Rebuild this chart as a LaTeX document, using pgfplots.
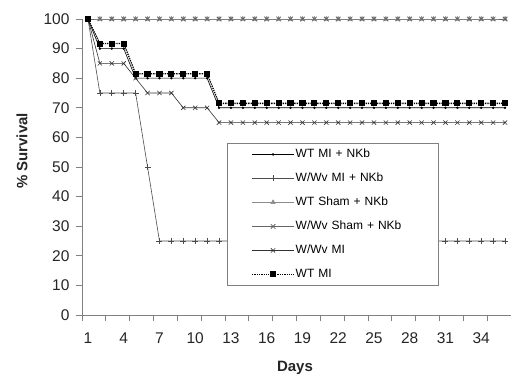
\documentclass[border=0pt]{standalone}
\usepackage{fontspec}
\setmainfont{Liberation Sans}
\usepackage{pgfplots}
\usepackage{pgfplotstable}
\pgfplotsset{compat=1.18}

\pgfplotstableread{
day wtminkb wwvminkb wtsham wwvsham wwvmi wtmi
1   100  100  100  100  100  100
2   90   75   100  100  85   91.7
3   90   75   100  100  85   91.7
4   90   75   100  100  85   91.7
5   80   75   100  100  80   81.5
6   80   50   100  100  75   81.5
7   80   25   100  100  75   81.5
8   80   25   100  100  75   81.5
9   80   25   100  100  70   81.5
10  80   25   100  100  70   81.5
11  80   25   100  100  70   81.5
12  70   25   100  100  65   71.5
13  70   25   100  100  65   71.5
14  70   25   100  100  65   71.5
15  70   25   100  100  65   71.5
16  70   25   100  100  65   71.5
17  70   25   100  100  65   71.5
18  70   25   100  100  65   71.5
19  70   25   100  100  65   71.5
20  70   25   100  100  65   71.5
21  70   25   100  100  65   71.5
22  70   25   100  100  65   71.5
23  70   25   100  100  65   71.5
24  70   25   100  100  65   71.5
25  70   25   100  100  65   71.5
26  70   25   100  100  65   71.5
27  70   25   100  100  65   71.5
28  70   25   100  100  65   71.5
29  70   25   100  100  65   71.5
30  70   25   100  100  65   71.5
31  70   25   100  100  65   71.5
32  70   25   100  100  65   71.5
33  70   25   100  100  65   71.5
34  70   25   100  100  65   71.5
35  70   25   100  100  65   71.5
36  70   25   100  100  65   71.5
}\survival

\begin{document}
\begin{tikzpicture}[x=1pt,y=1pt]
\path[use as bounding box] (0,0) rectangle (511,375);
\begin{axis}[
  at={(82pt,60pt)}, anchor=south west,
  scale only axis, width=429pt, height=296pt,
  xmin=0.5, xmax=36.5, ymin=0, ymax=100,
  axis x line*=bottom, axis y line*=left,
  axis line style={black!50, line width=0.8pt, -},
  xtick={1,4,...,34},
  major x tick style={draw=none},
  minor xtick={0.5,2.5,...,36.5},
  ytick={0,10,...,100},
  tick style={black!50, line width=0.8pt},
  tick align=outside,
  major tick length=6pt, minor tick length=6pt,
  ticklabel style={font=\fontsize{15.5}{15.5}\selectfont, text=black!85},
  xticklabel style={yshift=-8pt},
  yticklabel style={xshift=-3pt},
  /pgf/number format/assume math mode=true,
  xlabel={Days}, ylabel={\% Survival},
  every axis x label/.style={at={(axis description cs:0.4965,-0.178)}, anchor=center},
  every axis y label/.style={at={(axis description cs:-0.14,0.554)}, anchor=center, rotate=90},
  label style={font=\fontsize{15}{15}\selectfont\bfseries, text=black!85},
  clip=false,
  legend image code/.code={
    \draw[mark repeat=2,mark phase=2,#1]
      plot coordinates {(0pt,0pt) (21pt,0pt) (42pt,0pt)};
  },
  legend style={
    at={(rel axis cs:0.338,0.581)}, anchor=north west,
    draw=black!50, line width=0.8pt, fill=white,
    font=\fontsize{12}{12}\selectfont,
    inner xsep=24pt, inner ysep=4pt, row sep=10pt,
    nodes={inner xsep=1pt, inner ysep=1pt, text height=9pt, text depth=3pt, text width=118pt, line width=0.4pt},
  },
  legend cell align=left,
]
\addplot[black, line width=0.6pt, mark=*, mark size=0.9pt] table[x=day,y=wtminkb] {\survival};
\addlegendentry{WT MI + NKb}
\addplot[black!70, line width=0.6pt, mark=+, mark size=3pt] table[x=day,y=wwvminkb] {\survival};
\addlegendentry{W/Wv MI + NKb}
\addplot[black!45, line width=0.6pt, mark=triangle*, mark size=2.5pt] table[x=day,y=wtsham] {\survival};
\addlegendentry{WT Sham + NKb}
\addplot[black!60, line width=0.8pt, mark=x, mark size=3.2pt] table[x=day,y=wwvsham] {\survival};
\addlegendentry{W/Wv Sham + NKb}
\addplot[black!80, line width=0.6pt, mark=x, mark size=3pt] table[x=day,y=wwvmi] {\survival};
\addlegendentry{W/Wv MI}
\addplot[black, line width=1.3pt, densely dotted, mark=square*, mark size=2.4pt, mark options={solid}] table[x=day,y=wtmi] {\survival};
\addlegendentry{WT MI}
\end{axis}
\end{tikzpicture}
\end{document}
